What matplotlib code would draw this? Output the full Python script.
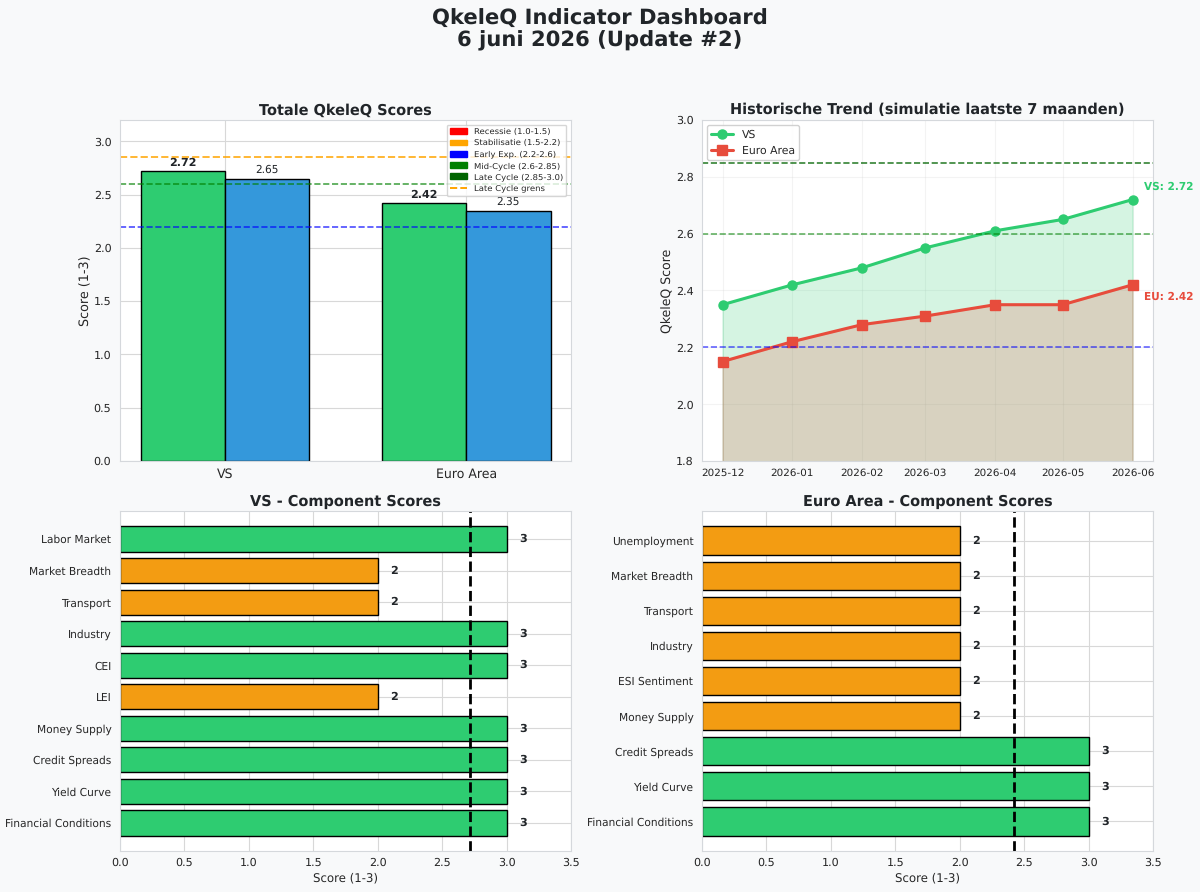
import matplotlib
matplotlib.use("Agg")
import matplotlib.pyplot as plt
import matplotlib.dates as mdates
from matplotlib.patches import Patch
from matplotlib.lines import Line2D
import numpy as np
import pandas as pd
import seaborn as sns

regions = ["VS", "Euro Area"]
totals_a = [2.72, 2.42]
totals_b = [2.65, 2.35]

months = ["2025-12", "2026-01", "2026-02", "2026-03", "2026-04", "2026-05", "2026-06"]
trend_vs = [2.35, 2.42, 2.48, 2.55, 2.61, 2.65, 2.72]
trend_eu = [2.15, 2.22, 2.28, 2.31, 2.35, 2.35, 2.42]

vs_names = ["Financial Conditions", "Yield Curve", "Credit Spreads", "Money Supply", "LEI",
            "CEI", "Industry", "Transport", "Market Breadth", "Labor Market"]
vs_scores = [3, 3, 3, 3, 2, 3, 3, 2, 2, 3]
eu_names = ["Financial Conditions", "Yield Curve", "Credit Spreads", "Money Supply", "ESI Sentiment",
            "Industry", "Transport", "Market Breadth", "Unemployment"]
eu_scores = [3, 3, 3, 2, 2, 2, 2, 2, 2]

phase_labels = ["Recessie (1.0-1.5)", "Stabilisatie (1.5-2.2)", "Early Exp. (2.2-2.6)",
                "Mid-Cycle (2.6-2.85)", "Late Cycle (2.85-3.0)"]
phase_colors = ["red", "orange", "blue", "green", "darkgreen"]

GREEN = "#2ecc71"
BLUE = "#3498db"
RED = "#e74c3c"
ORANGE = "#f39c12"
DARK = "#212529"

sns.set_style("whitegrid")
plt.rcParams["font.family"] = ["DejaVu Sans"]
plt.rcParams["axes.edgecolor"] = "#d5d8dc"
plt.rcParams["grid.color"] = "#d8d8d8"
plt.rcParams["text.hinting"] = "no_hinting"

W, H = 1200, 892
fig = plt.figure(figsize=(W / 100, H / 100), dpi=100, facecolor="#f8f9fa")


def add_ax(x0, y0, x1, y1):
    return fig.add_axes([x0 / W, 1 - y1 / H, (x1 - x0) / W, (y1 - y0) / H])


ax1 = add_ax(120, 120, 571, 461)
ax2 = add_ax(702, 120, 1153, 461)
ax3 = add_ax(120, 511, 571, 851)
ax4 = add_ax(702, 511, 1153, 851)

fig.text(0.5, 0.9662, "QkeleQ Indicator Dashboard\n6 juni 2026 (Update #2)", ha="center", va="center",
         fontsize=15.2, fontweight="bold", color=DARK, linespacing=1.1)

# totals
x = np.arange(len(regions))
ax1.bar(x - 0.175, totals_a, 0.35, color=GREEN, edgecolor="black", linewidth=1)
ax1.bar(x + 0.175, totals_b, 0.35, color=BLUE, edgecolor="black", linewidth=1)
for i in x:
    ax1.text(i - 0.175, totals_a[i] + 0.03, f"{totals_a[i]:.2f}", ha="center", va="bottom",
             fontsize=8, fontweight="bold", color=DARK)
    ax1.text(i + 0.175, totals_b[i] + 0.03, f"{totals_b[i]:.2f}", ha="center", va="bottom",
             fontsize=7.6, color=DARK)
ax1.axhline(2.85, color="orange", ls="--", lw=1.4, alpha=0.8)
ax1.axhline(2.6, color="green", ls="--", lw=1.2, alpha=0.7)
ax1.axhline(2.2, color="blue", ls="--", lw=1.2, alpha=0.7)
ax1.set_ylim(0, 3.2)
ax1.set_xticks(x)
ax1.set_xticklabels(regions, fontsize=9)
ax1.tick_params(axis="x", pad=1.5)
ax1.tick_params(axis="y", labelsize=8, pad=2.7)
ax1.set_ylabel("Score (1-3)", fontsize=9.2, labelpad=1)
ax1.set_title("Totale QkeleQ Scores", fontsize=10.45, fontweight="bold", color=DARK, pad=4)
handles = [Patch(color=c, label=l) for c, l in zip(phase_colors, phase_labels)]
handles.append(Line2D([], [], color="orange", ls="--", lw=1.4, label="Late Cycle grens"))
ax1.legend(handles=handles, loc="upper right", fontsize=6.1, frameon=True, framealpha=0.8,
           borderaxespad=0.55, labelspacing=0.42)

# trend
dates = pd.to_datetime(months)
ax2.fill_between(dates, trend_vs, color=GREEN, alpha=0.2)
ax2.fill_between(dates, trend_eu, color=RED, alpha=0.2)
ax2.plot(dates, trend_vs, color=GREEN, marker="o", ms=6.5, lw=2.2, label="VS")
ax2.plot(dates, trend_eu, color=RED, marker="s", ms=6.5, lw=2.2, label="Euro Area")
ax2.axhline(2.85, color="darkgreen", ls="--", lw=1.2, alpha=0.8)
ax2.axhline(2.6, color="green", ls="--", lw=1.2, alpha=0.6)
ax2.axhline(2.2, color="blue", ls="--", lw=1.2, alpha=0.6)
ax2.set_ylim(1.8, 3.0)
ax2.set_xticks(dates)
ax2.xaxis.set_major_formatter(mdates.DateFormatter("%Y-%m"))
ax2.tick_params(axis="x", labelsize=7.5, pad=2)
ax2.tick_params(axis="y", labelsize=8, pad=2.7)
ax2.grid(alpha=0.3)
ax2.set_ylabel("QkeleQ Score", fontsize=9, labelpad=1)
ax2.set_title("Historische Trend (simulatie laatste 7 maanden)", fontsize=10.45, fontweight="bold",
              color=DARK, pad=4)
ax2.legend(loc="upper left", fontsize=7.8, frameon=True, framealpha=0.9, borderaxespad=0.45)
ax2.annotate(f"VS: {trend_vs[-1]:.2f}", (dates[-1], trend_vs[-1]), xytext=(8, 7), textcoords="offset points",
             color=GREEN, fontsize=7.6, fontweight="bold", annotation_clip=False)
ax2.annotate(f"EU: {trend_eu[-1]:.2f}", (dates[-1], trend_eu[-1]), xytext=(8, -11), textcoords="offset points",
             color=RED, fontsize=7.6, fontweight="bold", annotation_clip=False)


def component_panel(ax, names, scores, total, title):
    colors = [GREEN if s == 3 else ORANGE for s in scores]
    ax.barh(names, scores, color=colors, edgecolor="black", linewidth=1)
    for i, s in enumerate(scores):
        ax.text(s + 0.1, i, str(s), va="center", fontsize=8, fontweight="bold", color=DARK)
    ax.axvline(total, color="black", ls="--", lw=2)
    ax.set_xlim(0, 3.5)
    ax.tick_params(axis="x", labelsize=8, pad=1)
    ax.tick_params(axis="y", labelsize=7.7, pad=2.7)
    ax.set_xlabel("Score (1-3)", fontsize=8.5, labelpad=3.5)
    ax.set_title(title, fontsize=10.45, fontweight="bold", color=DARK, pad=4)


component_panel(ax3, vs_names, vs_scores, totals_a[0], "VS - Component Scores")
component_panel(ax4, eu_names, eu_scores, totals_a[1], "Euro Area - Component Scores")

fig.savefig("out.png", dpi=100, facecolor=fig.get_facecolor())
